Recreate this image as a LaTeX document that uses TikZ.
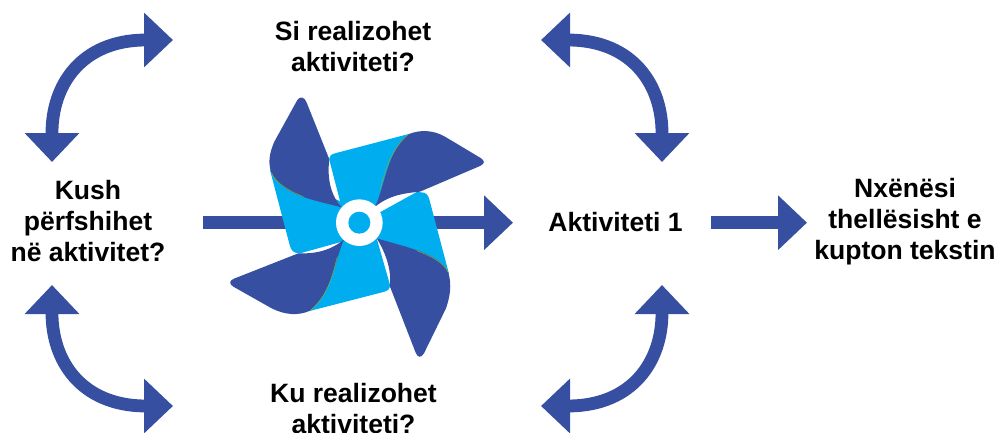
\documentclass[tikz,border=0pt]{standalone}
\usepackage{fontspec}
\setmainfont{Liberation Sans}
\usetikzlibrary{arrows.meta}
\definecolor{navy}{RGB}{55,79,161}
\definecolor{sky}{RGB}{0,174,239}
\definecolor{leaf}{RGB}{130,170,60}
\tikzset{
 lbl/.style={font=\fontsize{19.9pt}{23.25pt}\selectfont\bfseries,align=center,inner sep=0pt,text=black},
 tipa/.tip={Triangle[length=21.75pt,width=39.75pt]},
 link/.style={navy,line width=9.6pt},
 uni/.style={link,-{tipa}},
 bi/.style={link,{tipa}-{tipa}},
 blade/.style={fill=navy},
 vane/.style={fill=sky},
 edgeline/.style={draw=leaf,line width=0.4pt}
}
\begin{document}
\begin{tikzpicture}[x=0.75pt,y=-0.75pt]
\path[use as bounding box] (0,0) rectangle (1003,432);
\clip (0,0) rectangle (1003,432);
% labels
\node[lbl] (si) at (353,46.5) {Si realizohet\\aktiviteti?};
\node[lbl] (kush) at (88,221.5) {Kush\\përfshihet\\në aktivitet?};
\node[lbl] (ku) at (353.5,408.5) {Ku realizohet\\aktiviteti?};
\node[lbl] (akt) at (615.5,222) {Aktiviteti 1};
\node[lbl] (nx) at (905,221.5) {Nxënësi\\thellësisht e\\kupton tekstin};
% free ends
\coordinate (c1a) at (52,162); \coordinate (c1b) at (173,40);
\coordinate (c2a) at (662,162); \coordinate (c2b) at (541,40);
\coordinate (c3a) at (52,285); \coordinate (c3b) at (173,406);
\coordinate (c4a) at (662,285); \coordinate (c4b) at (541,406);
% curved arrows
\draw[bi] (c1a) -- (52,133) .. controls (52,84) and (82,41) .. (144,40) -- (c1b);
\draw[bi] (c2a) -- (662,133) .. controls (662,84) and (632,41) .. (570,40) -- (c2b);
\draw[bi] (c3a) -- (52,313) .. controls (52,362) and (82,405) .. (144,406) -- (c3b);
\draw[bi] (c4a) -- (662,313) .. controls (662,362) and (632,405) .. (570,406) -- (c4b);
% straight arrows
\coordinate (s1) at (203,222.7); \coordinate (s2) at (513,222.7);
\coordinate (s3) at (711,222.7); \coordinate (s4) at (807,222.7);
\draw[uni] (s1) -- (s2);
\draw[uni] (s3) -- (s4);
% pinwheel
\begin{scope}[shift={(220,90)},x=0.25pt,y=-0.25pt]
 % vanes
 \fill[vane] (150,240) -- (209,465) .. controls (213,483) and (222,490) .. (240,490) -- (420,440) -- (420,360) -- cycle;
 \fill[vane] (328,210) .. controls (328,198) and (333,193) .. (345,190) -- (570,131) -- (470,345) -- (420,400) -- (365,352) -- cycle;
 \fill[vane] (590,306) -- (605,307) .. controls (618,308) and (624,314) .. (628,328) -- (687,552) -- (470,445) -- (420,400) -- cycle;
 \fill[vane] (265,664) -- (490,606) .. controls (503,603) and (510,597) .. (510,585) -- (470,445) -- (420,400) -- (370,450) -- cycle;
 % blades
 \fill[blade] (232,30) -- (163,155) .. controls (150,185) and (143,215) .. (153,245) .. controls (185,315) and (280,330) .. (365,352) .. controls (335,320) and (320,270) .. (328,208) -- (260,38) .. controls (254,20) and (240,18) .. (232,30) -- cycle;
 \fill[blade] (780,228) -- (600,305) .. controls (550,310) and (510,315) .. (465,350) .. controls (495,290) and (500,185) .. (565,133) .. controls (600,118) and (640,120) .. (675,140) -- (782,204) .. controls (795,212) and (795,221) .. (780,228) -- cycle;
 \fill[blade] (470,445) .. controls (560,472) and (660,490) .. (685,548) .. controls (696,585) and (690,620) .. (678,655) -- (612,790) .. controls (603,805) and (593,803) .. (587,788) -- (510,590) .. controls (515,535) and (495,485) .. (470,445) -- cycle;
 \fill[blade] (372,448) .. controls (345,510) and (335,610) .. (270,662) .. controls (235,678) and (195,675) .. (155,655) -- (40,590) .. controls (27,582) and (27,572) .. (42,566) -- (235,490) .. controls (290,492) and (335,480) .. (372,448) -- cycle;
 % thin edges
 \draw[edgeline] (155,250) .. controls (170,280) and (200,300) .. (250,320);
 \draw[edgeline] (480,300) .. controls (495,240) and (515,175) .. (565,133);
 \draw[edgeline] (590,482) .. controls (630,497) and (670,515) .. (685,548);
 \draw[edgeline] (352,500) .. controls (335,570) and (320,620) .. (270,662);
 % hub
 \fill[white] (418,398) circle [radius=70];
 \fill[sky] (418,398) circle [radius=33];
\end{scope}
\end{tikzpicture}
\end{document}
